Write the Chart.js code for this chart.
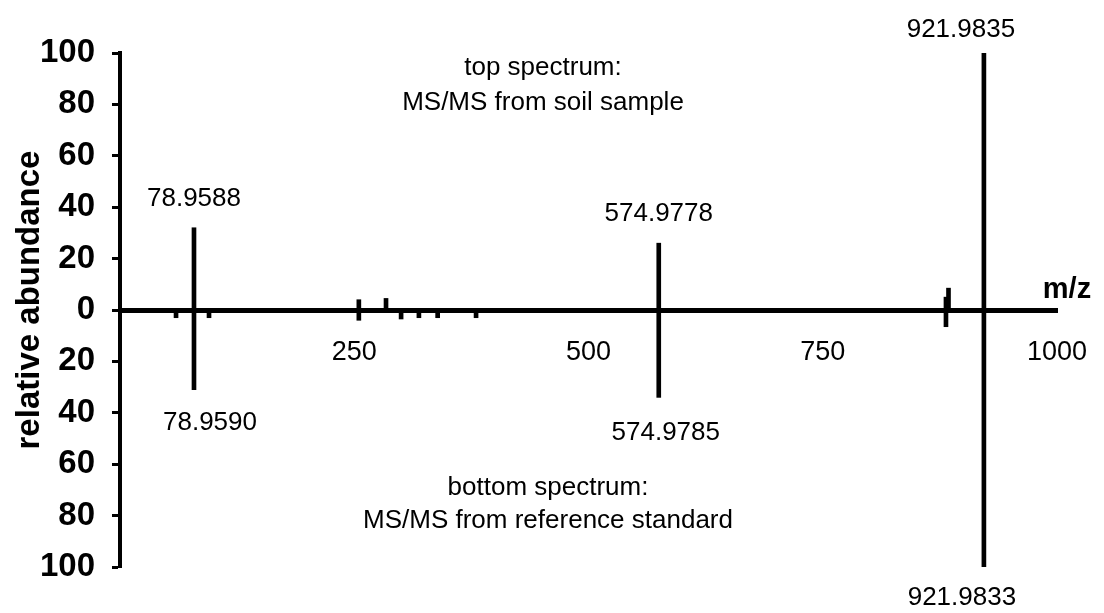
<!DOCTYPE html>
<html>
<head>
<meta charset="utf-8">
<title>MS/MS mirror spectrum</title>
<script src="https://cdn.jsdelivr.net/npm/chart.js@4"></script>
<style>
  html, body { margin: 0; padding: 0; background: #fff; }
  #wrap { width: 1104px; height: 613px; position: relative; }
</style>
</head>
<body>
<div id="wrap"><canvas id="spectrum"></canvas></div>
<script>
// top trace: MS/MS of the soil extract
const topMz = [78.9588, 254.9, 283.9, 881.5, 884.2, 574.9778, 921.9835];
const topAbundance = [32, 4, 4.5, 5, 8.5, 26, 100];

// bottom trace: MS/MS of the reference standard (plotted downwards)
const bottomMz = [59.8, 78.9590, 95.0, 254.9, 300.0, 319.0, 339.0, 380.0, 574.9785, 881.5, 921.9833];
const bottomAbundance = [3, 31, 3, 4, 3.5, 3, 3, 3, 34, 6.5, 100];

// peaks that get an m/z label
const labelledTop = [78.9588, 574.9778, 921.9835];
const labelledBottom = [78.9590, 574.9785, 921.9833];

const xTicks = [250, 500, 750, 1000];
const yTicks = [-100, -80, -60, -40, -20, 0, 20, 40, 60, 80, 100];

// label nudges in px: [dx, dy from peak tip]
const topNudge = [[0, -29], [0, -29], [-23, -23]];
const bottomNudge = [[16, 33], [7, 35], [-22, 31]];

const FONT = 'Arial, "Liberation Sans", sans-serif';

function peaks(mz, ab, sign) {
  return mz.map((m, i) => ({ x: m, y: sign * ab[i] }));
}

const textPlugin = {
  id: 'spectrumText',
  afterDraw(chart) {
    const ctx = chart.ctx;
    const xs = chart.scales.x;
    const ys = chart.scales.y;
    ctx.save();
    ctx.fillStyle = '#000';
    ctx.textAlign = 'center';
    ctx.textBaseline = 'middle';

    // m/z labels next to the main peaks
    ctx.font = '26px ' + FONT;
    labelledTop.forEach((m, i) => {
      const ab = topAbundance[topMz.indexOf(m)];
      ctx.fillText(m.toFixed(4), xs.getPixelForValue(m) + topNudge[i][0], ys.getPixelForValue(ab) + topNudge[i][1]);
    });
    labelledBottom.forEach((m, i) => {
      const ab = bottomAbundance[bottomMz.indexOf(m)];
      ctx.fillText(m.toFixed(4), xs.getPixelForValue(m) + bottomNudge[i][0], ys.getPixelForValue(-ab) + bottomNudge[i][1]);
    });

    // panel captions
    ctx.fillText('top spectrum:', 543, 68);
    ctx.fillText('MS/MS from soil sample', 543, 103);
    ctx.fillText('bottom spectrum:', 548, 488);
    ctx.fillText('MS/MS from reference standard', 548, 521);

    // axis titles
    ctx.font = 'bold 29px ' + FONT;
    ctx.fillText('m/z', 1067, 290);
    ctx.font = 'bold 33px ' + FONT;
    ctx.save();
    ctx.translate(30, 300);
    ctx.rotate(-Math.PI / 2);
    ctx.fillText('relative abundance', 0, 0);
    ctx.restore();

    ctx.restore();
  }
};

new Chart(document.getElementById('spectrum'), {
  type: 'bar',
  data: {
    datasets: [
      {
        label: 'soil sample',
        data: peaks(topMz, topAbundance, 1),
        backgroundColor: '#000',
        barThickness: 4,
        grouped: false
      },
      {
        label: 'reference standard',
        data: peaks(bottomMz, bottomAbundance, -1),
        backgroundColor: '#000',
        barThickness: 4,
        grouped: false
      }
    ]
  },
  options: {
    responsive: true,
    maintainAspectRatio: false,
    animation: false,
    events: [],
    layout: { padding: { left: 0, right: 47, top: 53, bottom: 46 } },
    plugins: {
      legend: { display: false },
      tooltip: { enabled: false }
    },
    scales: {
      x: {
        type: 'linear',
        position: { y: 0 },
        min: 0,
        max: 1000,
        offset: false,
        afterBuildTicks(scale) {
          scale.ticks = xTicks.map(v => ({ value: v }));
        },
        afterFit(scale) {
          // the end labels may hang into the margin
          scale.paddingLeft = 0;
          scale.paddingRight = 0;
        },
        grid: { display: false },
        border: { display: true, color: '#000', width: 5 },
        ticks: {
          color: '#000',
          font: { family: FONT, size: 27 },
          padding: 18,
          maxRotation: 0,
          autoSkip: false,
          callback: v => String(v)
        }
      },
      y: {
        min: -100,
        max: 100,
        afterBuildTicks(scale) {
          scale.ticks = yTicks.map(v => ({ value: v }));
        },
        afterFit(scale) {
          scale.width = 120;
        },
        grid: {
          display: true,
          drawOnChartArea: false,
          drawTicks: true,
          tickLength: 8,
          tickWidth: 3,
          tickColor: '#000'
        },
        border: { display: true, color: '#000', width: 4 },
        ticks: {
          color: '#000',
          font: { family: FONT, size: 33, weight: 'bold' },
          padding: 17,
          callback: v => Math.abs(v)
        }
      }
    }
  },
  plugins: [textPlugin]
});
</script>
</body>
</html>
